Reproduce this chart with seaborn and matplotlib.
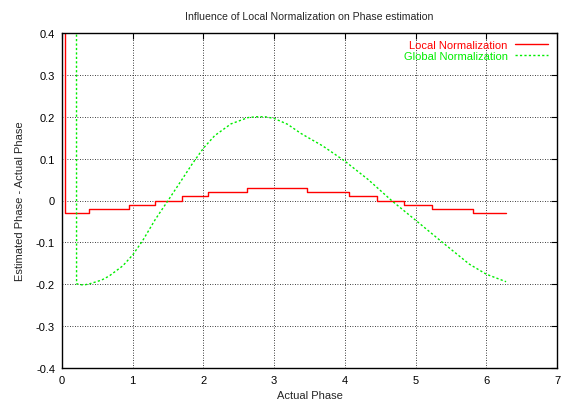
import matplotlib
matplotlib.use("Agg")
import matplotlib.pyplot as plt
import seaborn as sns
import pandas as pd

# ---- data ----
local_x = [0.0, 0.037, 0.38, 0.945, 1.32, 1.69, 2.06, 2.62, 3.47, 4.06, 4.46, 4.84, 5.23, 5.81, 6.28]
local_y = [0.5, -0.03, -0.02, -0.01, 0.0, 0.01, 0.02, 0.03, 0.02, 0.01, 0.0, -0.01, -0.02, -0.03, -0.03]

global_x = [0.205, 0.206, 0.30, 0.39, 0.56, 0.67, 0.86, 1.0, 1.14, 1.32, 1.50, 1.70, 1.84,
            2.0, 2.16, 2.39, 2.63, 2.75, 2.87, 3.0, 3.19, 3.38, 3.69, 4.0, 4.33,
            4.66, 5.0, 5.38, 5.76, 6.0, 6.28]
global_y = [0.5, -0.199, -0.202, -0.199, -0.19, -0.18, -0.156, -0.130, -0.096, -0.045, 0.0, 0.051, 0.087,
            0.125, 0.155, 0.183, 0.198, 0.2, 0.2, 0.196, 0.182, 0.16, 0.13, 0.094, 0.05,
            0.0, -0.047, -0.1, -0.152, -0.176, -0.194]

x_ticks = [0, 1, 2, 3, 4, 5, 6, 7]
x_tick_labels = ["0", "1", "2", "3", "4", "5", "6", "7"]
y_ticks = [-0.4, -0.3, -0.2, -0.1, 0.0, 0.1, 0.2, 0.3, 0.4]
y_tick_labels = ["-0.4", "-0.3", "-0.2", "-0.1", "0", "0.1", "0.2", "0.3", "0.4"]

title = "Influence of Local Normalization on Phase estimation"
x_label = "Actual Phase"
y_label = "Estimated Phase - Actual Phase"
label_local = "Local Normalization"
label_global = "Global Normalization"

sns.set_style("white")
plt.rcParams["font.family"] = ["Liberation Sans", "DejaVu Sans"]
plt.rcParams["axes.unicode_minus"] = False

fig = plt.figure(figsize=(5.61, 4.02), dpi=100)
W, H = 561.0, 402.0
ax = fig.add_axes([62 / W, 1 - 369 / H, 495 / W, 335 / H])

df_local = pd.DataFrame({"x": local_x, "y": local_y})
df_global = pd.DataFrame({"x": global_x, "y": global_y})

sns.lineplot(data=df_local, x="x", y="y", ax=ax, color="#ff0000", lw=1.0,
             drawstyle="steps-post", estimator=None, sort=False, label=label_local)
sns.lineplot(data=df_global, x="x", y="y", ax=ax, color="#00ee00", lw=1.0,
             estimator=None, sort=False, label=label_global, dashes=False)
ax.lines[1].set_linestyle((0, (1.6, 1.6)))

ax.set_xlim(0, 7)
ax.set_ylim(-0.4, 0.4)
ax.set_xticks(x_ticks)
ax.set_xticklabels(x_tick_labels)
ax.set_yticks(y_ticks)
ax.set_yticklabels(y_tick_labels)

ax.grid(True, color="black", linestyle=(0, (1, 2)), linewidth=0.6)
ax.set_axisbelow(True)
for s in ax.spines.values():
    s.set_visible(True)
    s.set_color("black")
    s.set_linewidth(1.0)
ax.tick_params(direction="in", length=4, width=0.8, top=True, right=True,
               labelsize=8, pad=5, colors="black")

ax.set_title(title, fontsize=7.6, pad=10)
ax.set_xlabel(x_label, fontsize=8, labelpad=4)
ax.set_ylabel(y_label, fontsize=8, labelpad=8)

leg = ax.legend(loc="upper right", bbox_to_anchor=(0.995, 1.0), frameon=False,
                markerfirst=False, labelcolor="linecolor", fontsize=8,
                handlelength=3.0, handletextpad=0.6, labelspacing=0.15,
                borderaxespad=0.2)
for h in leg.get_lines():
    h.set_linewidth(1.0)

fig.savefig("out.png", dpi=100)
